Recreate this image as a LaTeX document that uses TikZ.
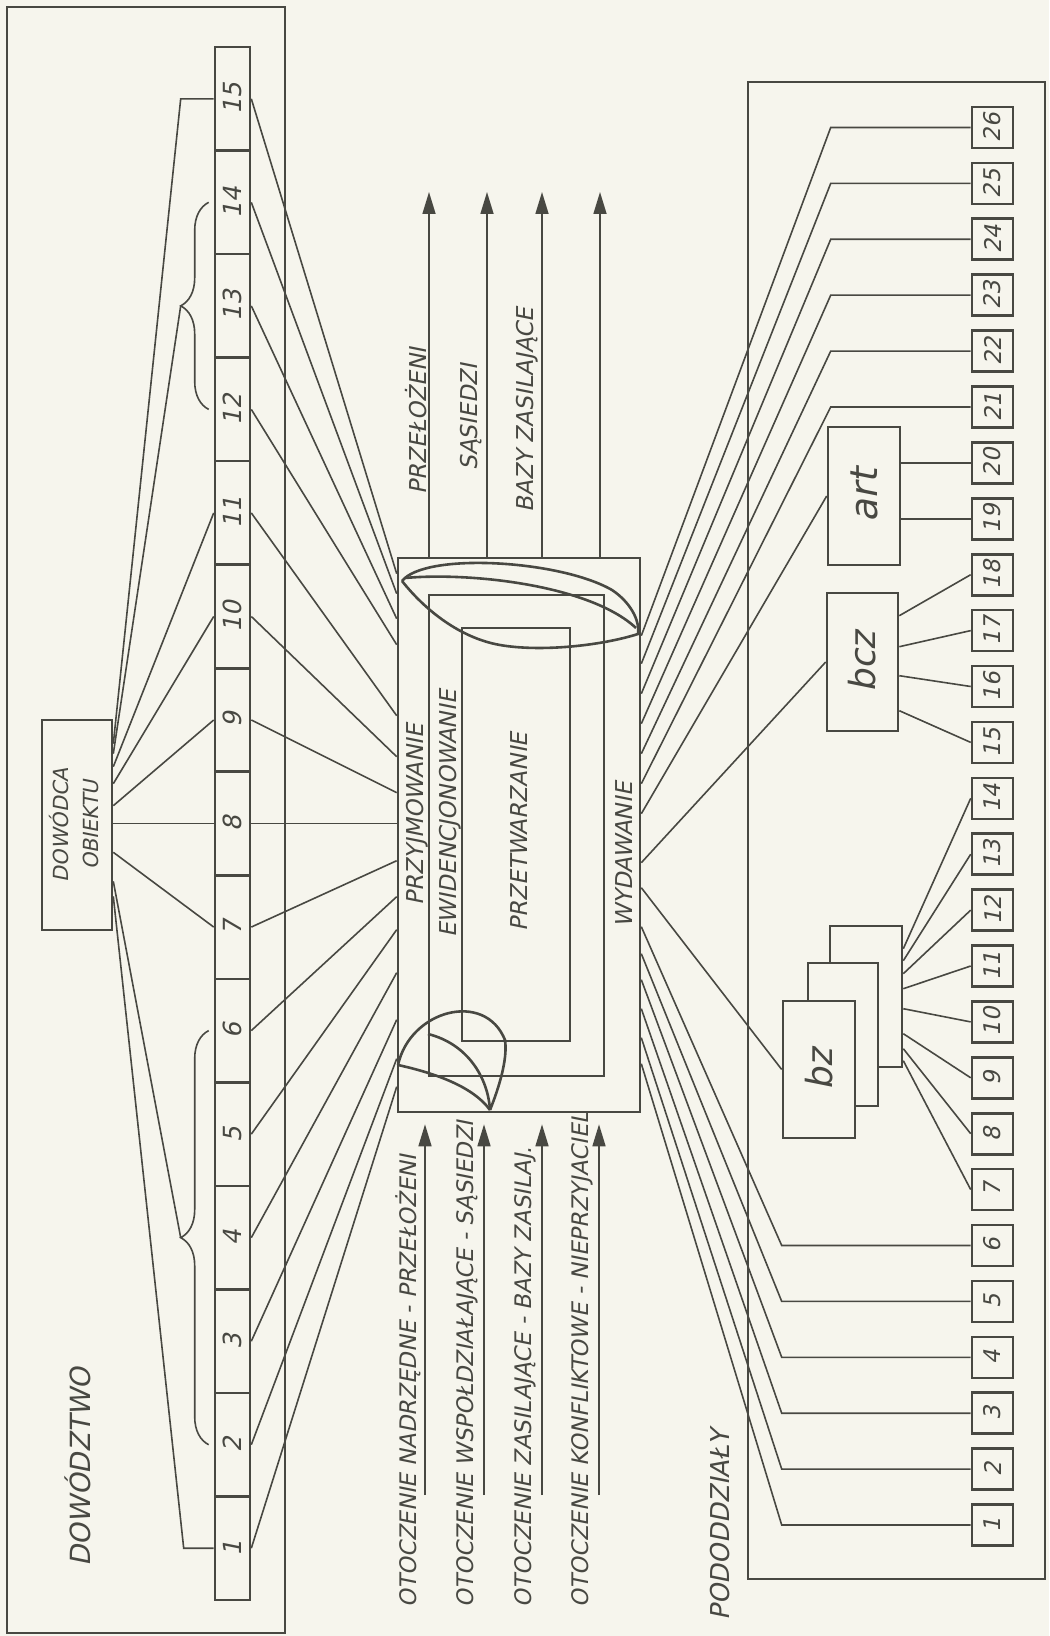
\documentclass[tikz,border=0pt]{standalone}
\usepackage{fontspec}
\newfontfamily\hand{DejaVu Sans}[FakeSlant=0.2]
\usetikzlibrary{arrows.meta,calc,decorations.pathreplacing}
\definecolor{ink}{RGB}{72,72,66}
\definecolor{paper}{RGB}{246,245,237}
\newcommand\hsz[1]{\fontsize{#1}{#1}\selectfont}

\begin{document}
\begin{tikzpicture}[
  x=0.5pt,y=-0.5pt,
  font=\hand,
  bx/.style  ={draw=ink,line width=1.3pt,fill=paper,inner sep=0pt,text=ink},
  cell/.style={bx,minimum width=17.5pt,minimum height=51.77pt,font=\hand\hsz{12.5}},
  nb/.style  ={bx,minimum width=20.5pt,minimum height=20.5pt,font=\hand\hsz{11.5}},
  pan/.style ={draw=ink,line width=1pt,inner sep=0pt},
  ln/.style  ={draw=ink,line width=0.8pt},
  ar/.style  ={ln,-{Triangle[length=11pt,width=6.5pt]}},
  lb/.style  ={rotate=90,inner sep=0pt,text=ink,font=\hand\hsz{11.6}},
  brc/.style ={ln,decorate,decoration={brace,amplitude=14pt}}
]
% ======== paper
\useasboundingbox (0,0) rectangle (1049,1636);
\fill[paper] (0,0) rectangle (1049,1636);

% ======== panels
\node[pan,minimum width=139pt,minimum height=813pt]     (lp) at (146,820) {};
\node[pan,minimum width=148.5pt,minimum height=748.5pt] (rp) at (896.5,830.5) {};

% ======== command side
\foreach \k in {1,...,15}
  \node[cell] (s\k) at (232.5,{1600-(\k-0.5)*103.53}) {\rotatebox{90}{\k}};
\node[bx,minimum width=35pt,minimum height=105pt,font=\hand\hsz{10.4}] (dc) at (77,825)
  {\rotatebox{90}{\begin{tabular}{@{}c@{}}DOWÓDCA\\[4pt]OBIEKTU\end{tabular}}};
\node[lb,font=\hand\hsz{13.9}] (dz) at (78,1467) {DOWÓDZTWO};

\draw[brc] ($(s12.west)+(-5,0)$) -- ($(s14.west)+(-5,0)$);
\draw[brc] ($(s2.west)+(-5,0)$)  -- ($(s6.west)+(-5,0)$);
\coordinate (tipu) at ($(s12.west)!0.5!(s14.west)+(-33,0)$);
\coordinate (tipl) at ($(s2.west)!0.5!(s6.west)+(-33,0)$);
\coordinate (k15)  at ($(s15.west)+(-33,0)$);
\coordinate (k1)   at ($(s1.west)+(-30,0)$);

\draw[ln] ($(dc.north east)+(0,25)$) -- (k15) -- (s15.west);
\draw[ln] ($(dc.north east)+(0,35)$) -- (tipu);
\draw[ln] ($(dc.north east)+(0,48)$) -- (s11.west);
\draw[ln] ($(dc.north east)+(0,65)$) -- (s10.west);
\draw[ln] ($(dc.north east)+(0,87)$) -- (s9.west);
\draw[ln] (dc.east |- s8.west) -- (s8.west);
\draw[ln] ($(dc.south east)+(0,-79)$) -- (s7.west);
\draw[ln] ($(dc.south east)+(0,-50)$) -- (tipl);
\draw[ln] ($(dc.south east)+(0,-35)$) -- (k1) -- (s1.west);

% ======== object in the middle
\node[bx,fill=none,minimum width=121pt,minimum height=277pt]  (mb) at (519,835) {};
\node[bx,fill=none,minimum width=87.5pt,minimum height=240.5pt] (ev) at (516.5,835.5) {};
\node[bx,fill=none,minimum width=54pt,minimum height=206.5pt]  (pz) at (516,834.5) {};
\node[lb] at (417,815) {PRZYJMOWANIE};
\node[lb] at (450,814) {EWIDENCJONOWANIE};
\node[lb] at (519,832) {PRZETWARZANIE};
\node[lb] at (624,855) {WYDAWANIE};

% loops drawn by hand over the boxes
\draw[ink,line width=1.3pt] (402,581) .. controls (425,552) and (560,560) .. (612,590)
  .. controls (630,602) and (640,620) .. (638,634)
  .. controls (600,646) and (540,652) .. (500,645)
  .. controls (460,638) and (425,610) .. (402,581);
\draw[ink,line width=1.3pt] (405,578) .. controls (470,572) and (590,585) .. (636,628);
\draw[ink,line width=1.3pt] (398,1065) .. controls (410,1010) and (485,990) .. (505,1040)
  .. controls (508,1060) and (498,1090) .. (490,1110);
\draw[ink,line width=1.3pt] (398,1065) .. controls (430,1072) and (472,1085) .. (490,1110);
\draw[ink,line width=1.3pt] (428,1034) .. controls (468,1044) and (488,1078) .. (490,1110);

% strip -> object
\foreach \k/\d in {15/17,14/37,13/62,12/88,11/159,10/200,9/236,7/304,6/340,5/373,4/416,3/463,2/502,1/530}
  \draw[ln] (s\k.east) -- ($(mb.north west)+(0,\d)$);
\draw[ln] (s8.east) -- (s8.east -| mb.west);

% ======== environment arrows
\foreach \n/\x in {1/429,2/487,3/542,4/600} {
  \coordinate (ua\n) at (\x,192);
  \draw[ar] (ua\n |- mb.north) -- (ua\n);
}
\foreach \n/\x in {1/425,2/484,3/542,4/599} {
  \coordinate (da\n) at (\x,1495);
  \draw[ar] (da\n) -- ($(da\n |- mb.south)+(0,11)$);
}
\node[lb] at (416,421) {PRZEŁOŻENI};
\node[lb] at (471,417) {SĄSIEDZI};
\node[lb] at (527,410) {BAZY ZASILAJĄCE};
\node[lb,anchor=west,font=\hand\hsz{11.4}] at (408,1608) {OTOCZENIE NADRZĘDNE - PRZEŁOŻENI};
\node[lb,anchor=west,font=\hand\hsz{11.4}] at (467,1608) {OTOCZENIE WSPOŁDZIAŁAJĄCE - SĄSIEDZI};
\node[lb,anchor=west,font=\hand\hsz{11.4}] at (525,1608) {OTOCZENIE ZASILAJĄCE - BAZY ZASILAJ.};
\node[lb,anchor=west,font=\hand\hsz{11.4}] at (582,1608) {OTOCZENIE KONFLIKTOWE - NIEPRZYJACIEL};

% ======== subunits
\foreach \k in {1,...,26}
  \node[nb] (r\k) at (992.5,{127.5+(26-\k)*55.9}) {\rotatebox{90}{\k}};
\node[bx,minimum width=36pt,minimum height=69pt,font=\hand\hsz{19}]   (art) at (864,496) {\rotatebox{90}{art}};
\node[bx,minimum width=35.5pt,minimum height=69pt,font=\hand\hsz{18}] (bcz) at (862.5,662) {\rotatebox{90}{bcz}};
\node[bx,minimum width=36pt,minimum height=70.5pt] (bzb) at (866,996.5) {};
\node[bx,minimum width=35pt,minimum height=71.5pt] (bzm) at (843,1034.5) {};
\node[bx,minimum width=36pt,minimum height=68.5pt,font=\hand\hsz{18}] (bz) at (819,1069.5) {\rotatebox{90}{bz}};
\node[lb,font=\hand\hsz{13}] (pd) at (720,1525) {PODODDZIAŁY};

% object -> subunits
\foreach \k/\d in {26/79,25/107,24/137,23/167,22/197,21/227}
  \draw[ln] ($(mb.north east)+(0,\d)$) -- ($(r\k.west)+(-140,0)$) -- (r\k.west);
\draw[ln] ($(mb.north east)+(0,257)$) -- (art.west);
\draw[ln] ($(mb.north east)+(0,306)$) -- (bcz.west);
\draw[ln] ($(mb.north east)+(0,331)$) -- (bz.west);
\foreach \k/\d in {6/370,5/397,4/423,3/452,2/481,1/507}
  \draw[ln] ($(mb.north east)+(0,\d)$) -- ($(r\k.west)+(-189,0)$) -- (r\k.west);

% groups -> numbered subunits
\foreach \k in {19,20} \draw[ln] (art.east |- r\k.west) -- (r\k.west);
\foreach \k/\d in {18/24,17/55,16/84,15/119}
  \draw[ln] ($(bcz.north east)+(0,\d)$) -- (r\k.west);
\foreach \k/\d in {14/24,13/36,12/49,11/64,10/84,9/109,8/124,7/136}
  \draw[ln] ($(bzb.north east)+(0,\d)$) -- (r\k.west);
\end{tikzpicture}
\end{document}
